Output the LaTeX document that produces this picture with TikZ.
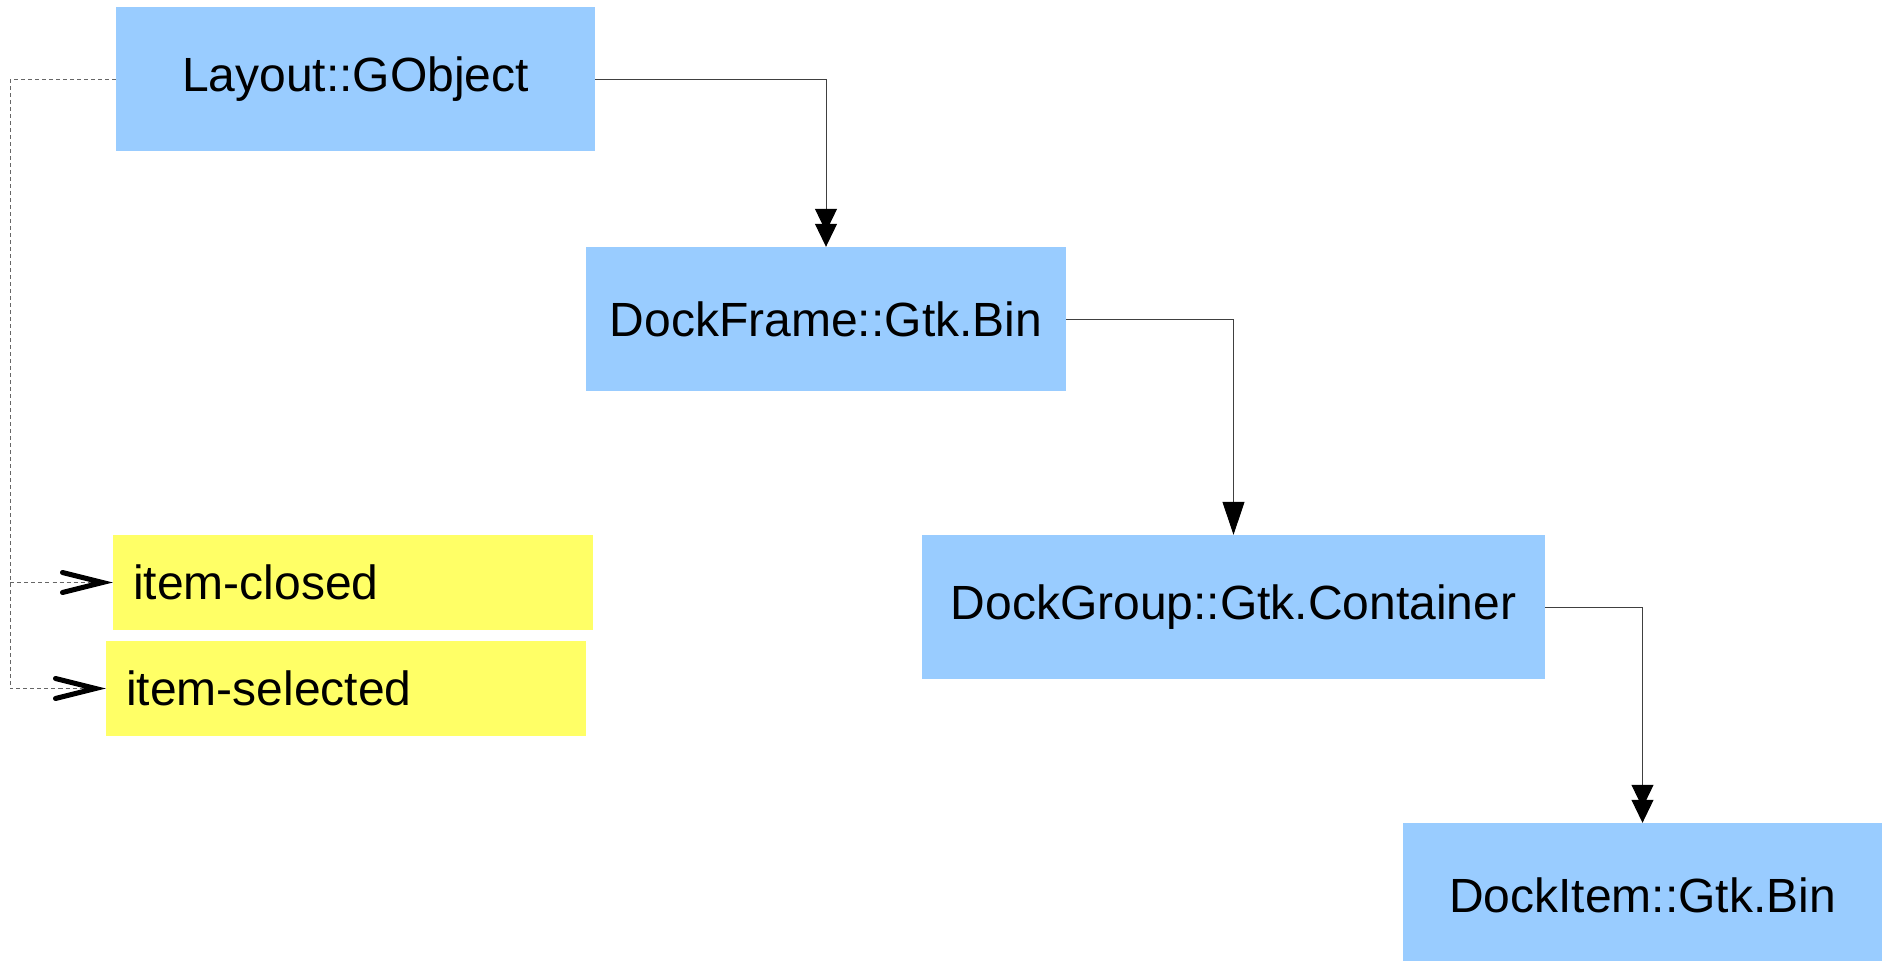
\documentclass[tikz,border=0pt]{standalone}
\usepackage{fontspec}
\setmainfont{Liberation Sans}
\usetikzlibrary{arrows.meta}
\definecolor{boxblue}{HTML}{99CCFF}
\definecolor{boxyellow}{HTML}{FFFF66}
\begin{document}
\begin{tikzpicture}[x=1pt,y=-1pt,
  cls/.style={fill=boxblue, draw=none, minimum height=144pt, inner sep=0pt,
    font=\fontsize{48}{58}\selectfont},
  sig/.style={fill=boxyellow, draw=none, minimum height=95pt, inner xsep=20pt, inner ysep=0pt,
    text width=440pt, align=left, font=\fontsize{48}{58}\selectfont},
  conn/.style={draw=black!75, line width=1pt},
  dbltip/.style={-{Triangle[length=23pt,width=22pt,sep=-8pt,color=black]Triangle[length=23pt,width=22pt,color=black]}},
  sgltip/.style={-{Triangle[length=33pt,width=22pt,color=black]}},
  sigline/.style={draw=black!60, line width=1pt, dash pattern=on 4pt off 3pt},
  sigtip/.style={-{Straight Barb[length=40pt,width=20pt,line width=5pt,color=black,line cap=round]}}
]
\useasboundingbox (0,0) rectangle (1890,961);
\clip (0,0) rectangle (1890,961);

\node[cls, minimum width=479pt] (layout) at (355.5,79) {Layout::GObject};
\node[cls, minimum width=480pt] (frame) at (826,319) {DockFrame::Gtk.Bin};
\node[cls, minimum width=623pt] (group) at (1233.5,607) {DockGroup::Gtk.Container};
\node[cls, minimum width=479pt] (item) at (1642.5,895) {DockItem::Gtk.Bin};

\node[sig] (closed) at (353,582.5) {item-closed};
\node[sig] (selected) at (346,688.5) {item-selected};

\draw[conn, dbltip] (layout.east) -| (frame.north);
\draw[conn, sgltip] (frame.east) -| (group.north);
\draw[conn, dbltip] (group.east) -| (item.north);

\coordinate (bend) at (10,79);
\draw[sigline] (layout.west) -- (bend);
\draw[sigline, sigtip] (bend) |- (closed.west);
\draw[sigline, sigtip] (bend) |- (selected.west);
\end{tikzpicture}
\end{document}
